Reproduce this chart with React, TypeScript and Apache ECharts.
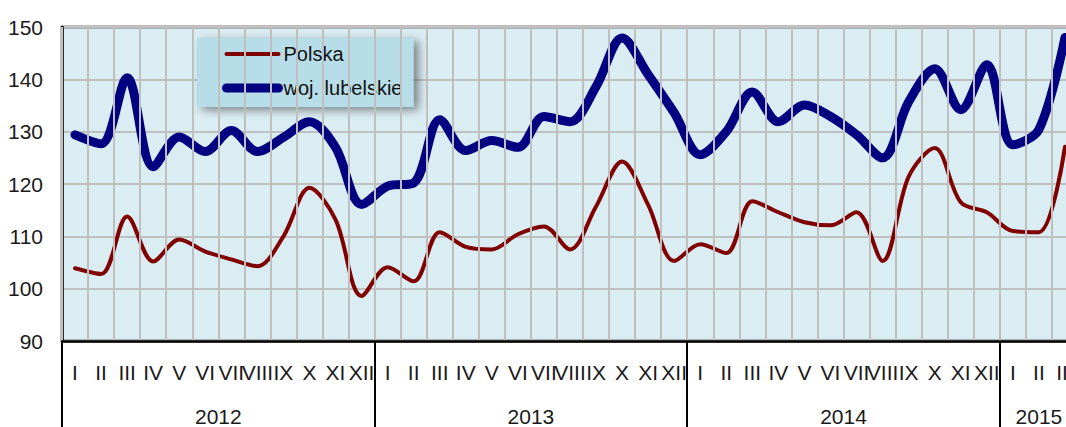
import React, { useEffect, useRef } from "react";
import * as echarts from "echarts";

const months = [
  "I", "II", "III", "IV", "V", "VI", "VII", "VIII", "IX", "X", "XI", "XII",
  "I", "II", "III", "IV", "V", "VI", "VII", "VIII", "IX", "X", "XI", "XII",
  "I", "II", "III", "IV", "V", "VI", "VII", "VIII", "IX", "X", "XI", "XII",
  "I", "II", "III",
];
const years = ["2012", "2013", "2014", "2015"];
const monthsPerYear = [12, 12, 12, 3];

const polska = [
  103.9, 102.8, 113.8, 105.2, 109.4, 107.1, 105.6, 104.3, 110.0, 119.3, 113.2, 98.6,
  104.1, 101.4, 110.8, 108.0, 107.5, 110.4, 111.9, 107.5, 115.7, 124.3, 116.0, 105.3,
  108.5, 106.8, 116.7, 114.6, 112.7, 112.1, 114.6, 105.3, 121.4, 126.9, 116.5, 114.6,
  111.0, 110.8, 127.1,
];
const lubelskie = [
  129.4, 127.7, 140.3, 123.3, 129.0, 126.2, 130.2, 126.2, 128.9, 131.9, 127.0, 116.1,
  119.6, 120.2, 132.3, 126.4, 128.3, 127.0, 132.9, 131.9, 138.6, 147.9, 140.9, 133.6,
  125.6, 130.0, 137.6, 131.9, 135.1, 132.9, 129.4, 125.0, 135.7, 142.0, 134.2, 142.8,
  127.5, 130.4, 148.0,
];
const yMin = 90;
const yMax = 150;
const yStep = 10;

const FONT = "'Liberation Sans', Arial, sans-serif";

// half-month boundary categories used for year labels and year separators
const buildYearAxis = () => {
  const total = monthsPerYear.reduce((a, b) => a + b, 0) * 2 + 1;
  const cats: string[] = new Array(total).fill("");
  const bounds: number[] = [];
  let start = 0;
  years.forEach((y, i) => {
    bounds.push(start * 2);
    const mid = start * 2 + monthsPerYear[i];
    cats[mid] = y;
    start += monthsPerYear[i];
  });
  return { cats, bounds };
};

export default function App() {
  const ref = useRef<HTMLDivElement>(null);
  useEffect(() => {
    if (!ref.current) return;
    const chart = echarts.init(ref.current, undefined, { renderer: "svg" });
    const { cats, bounds } = buildYearAxis();
    chart.setOption({
      animation: false,
      grid: {
        left: 62,
        top: 27,
        width: 1016,
        height: 316,
        show: true,
        backgroundColor: "#DAEDF3",
        borderColor: "#000",
        borderWidth: 2.5,
      },
      legend: {
        data: [
          {
            name: "Polska",
            itemStyle: { opacity: 0 },
            lineStyle: { width: 4, color: "#800000", cap: "round" },
          },
          {
            name: "woj. lubelskie",
            itemStyle: { opacity: 0 },
            lineStyle: { width: 9, color: "#000080", cap: "round" },
          },
        ],
        orient: "vertical",
        left: 197,
        top: 38,
        padding: [6, 11, 9, 25],
        itemWidth: 52,
        itemHeight: 24,
        itemGap: 14,
        backgroundColor: "#B7DEE8",
        shadowBlur: 10,
        shadowColor: "rgba(0,0,0,0.45)",
        shadowOffsetX: 5,
        shadowOffsetY: 3,
        textStyle: { fontSize: 20, color: "#111", fontFamily: FONT },
      },
      xAxis: [
        {
          type: "category",
          data: months,
          boundaryGap: true,
          axisLine: { show: true, lineStyle: { color: "#000", width: 2.5 } },
          axisTick: { show: false },
          axisLabel: {
            interval: 0,
            fontSize: 21,
            margin: 21,
            color: "#1a1a1a",
            fontFamily: FONT,
          },
          splitLine: { show: true, interval: 0, lineStyle: { color: "#BFBFBF", width: 2 } },
          z: 5,
        },
        {
          type: "category",
          data: cats,
          boundaryGap: false,
          position: "bottom",
          axisLine: { show: false },
          axisTick: {
            show: true,
            interval: (i: number) => bounds.includes(i),
            length: 90,
            lineStyle: { color: "#000", width: 2 },
          },
          axisLabel: {
            interval: (i: number, v: string) => v !== "",
            fontSize: 21,
            margin: 65,
            color: "#1a1a1a",
            fontFamily: FONT,
          },
          splitLine: { show: false },
        },
      ],
      yAxis: {
        type: "value",
        min: yMin,
        max: yMax,
        interval: yStep,
        axisLine: { show: true, lineStyle: { color: "#000", width: 2.5 } },
        axisTick: { show: false },
        axisLabel: { fontSize: 21, margin: 19, color: "#1a1a1a", fontFamily: FONT },
        splitLine: { show: true, lineStyle: { color: "#BFBFBF", width: 2 } },
      },
      series: [
        {
          name: "Polska",
          type: "line",
          data: polska,
          smooth: 0.33,
          symbol: "none",
          lineStyle: { color: "#800000", width: 4, cap: "round" },
          itemStyle: { color: "#800000" },
          z: 3,
        },
        {
          name: "woj. lubelskie",
          type: "line",
          data: lubelskie,
          smooth: 0.33,
          symbol: "none",
          lineStyle: { color: "#000080", width: 9, cap: "round" },
          itemStyle: { color: "#000080" },
          z: 4,
        },
      ],
    });
    return () => chart.dispose();
  }, []);
  return (
    <div
      style={{
        position: "fixed",
        left: 0,
        top: 0,
        width: 1066,
        height: 427,
        overflow: "hidden",
        background: "#fff",
      }}
    >
      <div ref={ref} style={{ width: 1110, height: 427 }} />
    </div>
  );
}
